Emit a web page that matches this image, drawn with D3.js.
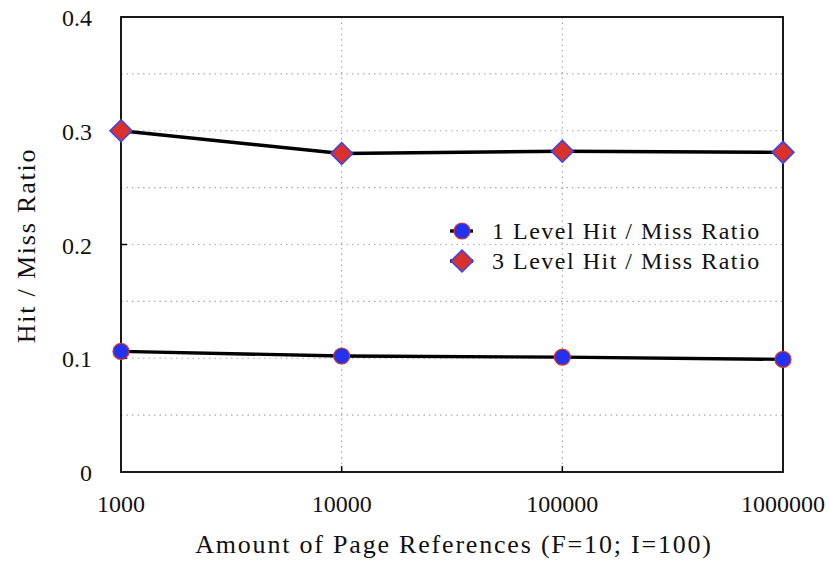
<!DOCTYPE html>
<html>
<head>
<meta charset="utf-8">
<title></title>
<script src="https://d3js.org/d3.v7.min.js"></script>
<style>
body { margin: 0; background: #fff; }
text { font-family: "Liberation Serif", "DejaVu Serif", serif; fill: #111; }
.grid line { stroke: #aaa; stroke-width: 1.2; stroke-dasharray: 1.5,4; }
.tick-lbl { font-size: 24px; }
.axis-label { font-size: 26px; letter-spacing: 1.8px; }
.legend-lbl { font-size: 24px; letter-spacing: 1.5px; }
</style>
</head>
<body>
<div class="content"></div>
<script>
var pageRefs = [1000, 10000, 100000, 1000000];
var level1 = [0.106, 0.102, 0.101, 0.099];
var level3 = [0.300, 0.280, 0.282, 0.281];
var seriesNames = ["1 Level Hit / Miss Ratio", "3 Level Hit / Miss Ratio"];
var yTicks = [0, 0.1, 0.2, 0.3, 0.4];
var yGrid = [0.05, 0.1, 0.15, 0.2, 0.25, 0.3, 0.35];

var margin = { top: 17, right: 47, bottom: 95, left: 121 };
var width = 830 - margin.left - margin.right,
    height = 567 - margin.top - margin.bottom;

var svg = d3.select(".content").append("svg")
    .attr("width", 830).attr("height", 567);

var x = d3.scaleLog().domain([1000, 1000000]).range([0, width]),
    y = d3.scaleLinear().domain([0, 0.4]).range([height, 0]);

var g = svg.append("g")
    .attr("transform", "translate(" + margin.left + "," + margin.top + ")");

// dotted grid
var grid = g.append("g").attr("class", "grid");
grid.selectAll(".hg").data(yGrid).enter().append("line")
    .attr("x1", 0).attr("x2", width)
    .attr("y1", function (d) { return y(d); }).attr("y2", function (d) { return y(d); });
grid.selectAll(".vg").data(pageRefs.slice(1, -1)).enter().append("line")
    .attr("y1", 0).attr("y2", height)
    .attr("x1", function (d) { return x(d); }).attr("x2", function (d) { return x(d); });

// inner ticks
g.selectAll(".ytk").data(yTicks.slice(1, -1)).enter().append("line")
    .attr("x1", 0).attr("x2", 6)
    .attr("y1", function (d) { return y(d); }).attr("y2", function (d) { return y(d); })
    .style("stroke", "#000").style("stroke-width", 1.5);
g.selectAll(".xtk").data(pageRefs.slice(1, -1)).enter().append("line")
    .attr("y1", height).attr("y2", height - 6)
    .attr("x1", function (d) { return x(d); }).attr("x2", function (d) { return x(d); })
    .style("stroke", "#000").style("stroke-width", 1.5);

// frame
g.append("rect")
    .attr("width", width).attr("height", height)
    .style("fill", "none").style("stroke", "#000").style("stroke-width", 1.8);

// tick labels
g.selectAll(".ylbl").data(yTicks).enter().append("text")
    .attr("class", "tick-lbl")
    .attr("x", -29).attr("y", function (d) { return y(d) + 9; })
    .attr("text-anchor", "end")
    .text(function (d) { return d === 0 ? "0" : d3.format(".1f")(d); });
g.selectAll(".xlbl").data(pageRefs).enter().append("text")
    .attr("class", "tick-lbl")
    .attr("x", function (d) { return x(d); }).attr("y", height + 40)
    .attr("text-anchor", "middle")
    .text(function (d) { return d; });

// axis titles
g.append("text").attr("class", "axis-label")
    .attr("x", width / 2 + 2).attr("y", height + 81)
    .attr("text-anchor", "middle")
    .text("Amount of Page References (F=10; I=100)");
g.append("text").attr("class", "axis-label")
    .attr("transform", "translate(-86," + (height / 2 + 1) + ") rotate(-90)")
    .attr("text-anchor", "middle")
    .text("Hit / Miss Ratio");

var line = d3.line()
    .x(function (d, i) { return x(pageRefs[i]); })
    .y(function (d) { return y(d); });

[level1, level3].forEach(function (s) {
    g.append("path").datum(s).attr("d", line)
        .style("fill", "none").style("stroke", "#000").style("stroke-width", 3.4);
});

function circle(sel) {
    sel.append("circle").attr("r", 8)
        .style("fill", "#2233f0").style("stroke", "#e03020").style("stroke-width", 1.2);
}
function diamond(sel) {
    sel.append("path").attr("d", "M0,-11L11,0L0,11L-11,0Z")
        .style("fill", "#d8322a").style("stroke", "#3344ff").style("stroke-width", 1.5);
}

g.selectAll(".m1").data(level1).enter().append("g")
    .attr("transform", function (d, i) { return "translate(" + x(pageRefs[i]) + "," + y(d) + ")"; })
    .call(circle);
g.selectAll(".m3").data(level3).enter().append("g")
    .attr("transform", function (d, i) { return "translate(" + x(pageRefs[i]) + "," + y(d) + ")"; })
    .call(diamond);

// legend
var leg = g.append("g").attr("transform", "translate(329,214)");
[circle, diamond].forEach(function (mk, i) {
    var row = leg.append("g").attr("transform", "translate(0," + (i * 30) + ")");
    row.append("line").attr("x1", 0).attr("x2", 23)
        .style("stroke", "#000").style("stroke-width", 3.4);
    row.append("g").attr("transform", "translate(12,0)").call(mk);
    row.append("text").attr("class", "legend-lbl")
        .attr("x", 42).attr("y", 8).text(seriesNames[i]);
});
</script>
</body>
</html>
